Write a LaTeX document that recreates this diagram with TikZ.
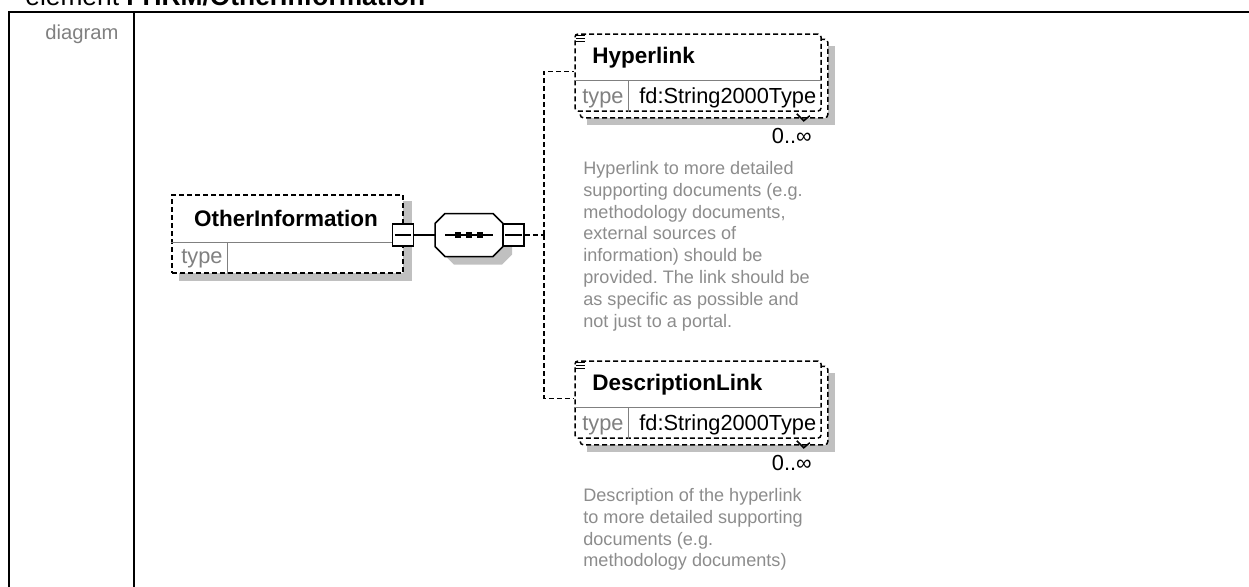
\documentclass[tikz,border=0pt]{standalone}
\usepackage{fontspec}
\setmainfont{Liberation Sans}
\usepackage{tikz}
\usetikzlibrary{calc, positioning, backgrounds}
\definecolor{mygray}{RGB}{128,128,128}
\definecolor{mynote}{RGB}{140,140,140}
\definecolor{myshadow}{RGB}{192,192,192}
\tikzset{
  line/.style={draw=black, line width=0.3mm},
  optline/.style={draw=black, line width=0.3mm, dash pattern=on 1mm off 0.6mm},
  rowline/.style={draw=mygray, line width=0.3mm},
  elem/.style={optline, fill=white, rectangle, inner sep=0pt},
  minusbox/.style={line, fill=white, rectangle, inner sep=0pt, minimum width=4.2mm, minimum height=4.4mm},
  seqbox/.style={rectangle, inner sep=0pt, minimum width=13.6mm, minimum height=8.6mm},
  ename/.style={font=\fontsize{12.8}{15}\selectfont\bfseries, inner sep=0pt, anchor=base west},
  etype/.style={font=\fontsize{12.4}{15}\selectfont, inner sep=0pt, anchor=base west},
  typelbl/.style={etype, text=mygray},
  occurs/.style={font=\fontsize{12.4}{15}\selectfont, inner sep=0pt, anchor=base east},
  note/.style={font=\fontsize{10.3}{12.4}\selectfont\frenchspacing, text=mynote, align=left, inner sep=0pt, anchor=north west}
}
\begin{document}
\begin{tikzpicture}[x=0.2mm, y=-0.2mm]
  \useasboundingbox (0,0) rectangle (1249,586);

  % frame
  \node[font=\fontsize{15}{18}\selectfont, inner sep=0pt, anchor=base west] (title) at (25,5.5) {element \textbf{FHRM/OtherInformation}};
  \draw[line width=0.4mm] (1260,12) -- (8.5,12) -- (8.5,600);
  \draw[line width=0.4mm] (134,12) -- (134,600);
  \node[font=\fontsize{11.5}{14}\selectfont, text=mygray, inner sep=0pt, anchor=base west] (diag) at (45,39) {diagram};

  % OtherInformation
  \node[elem, minimum width=46.2mm, minimum height=15.6mm] (oi) at (287.5,234) {};
  \draw[rowline] ($(oi.north west)+(0,48)$) -- ($(oi.north east)+(0,48)$);
  \draw[rowline] ($(oi.north west)+(56,48)$) -- ($(oi.south west)+(56,0)$);
  \node[ename, anchor=base] (oiname) at (286,226) {OtherInformation};
  \node[typelbl] (oitype) at (181,263) {type};
  \node[minusbox] (oim) at (403,235) {};
  \draw[line] ($(oim.west)+(3,0)$) -- ($(oim.east)+(-3,0)$);

  % sequence
  \node[seqbox] (seq) at (469,235) {};
  \draw[line, fill=white] (seq.center) ++(-24,-21.5) -- ++(48,0) -- ++(10,10) -- ++(0,23) -- ++(-10,10) -- ++(-48,0) -- ++(-10,-10) -- ++(0,-23) -- cycle;
  \draw[line] ($(seq.center)+(-24,0)$) -- ($(seq.center)+(24,0)$);
  \foreach \dx in {-11,0,11}
    \fill ($(seq.center)+(\dx,0)+(-3,-3)$) rectangle +(6,6);
  \node[minusbox] (seqm) at (513.5,235) {};
  \draw[line] ($(seqm.west)+(3,0)$) -- ($(seqm.east)+(-3,0)$);
  \draw[line] (oim) -- (seq);
  \coordinate (split) at (544,235);
  \draw[optline] (seqm) -- (split);

  % Hyperlink
  \node[elem, rounded corners=0.6mm, minimum width=49.2mm, minimum height=15.4mm] (hl) at (698,72.5) {};
  \draw[rowline] ($(hl.north west)+(0,47)$) -- ($(hl.north east)+(0,47)$);
  \draw[rowline] ($(hl.north west)+(54,47)$) -- ($(hl.south west)+(54,0)$);
  \foreach \dy in {2,5,8}
    \draw[line] ($(hl.north west)+(2,\dy)$) -- +(9,0);
  \node[ename] (hlname) at (592,63) {Hyperlink};
  \node[typelbl] (hltype) at (582,103) {type};
  \node[etype] (hlval) at (639,103) {fd:String2000Type};
  \draw[line] ($(hl.south east)+(-25,2)$) -- +(7,7) -- +(13,2);
  \node[occurs] (hlocc) at (812,143) {0..∞};
  \node[note] (hlnote) at (583,161) {Hyperlink to more detailed\\supporting documents (e.g.\\methodology documents,\\external sources of\\information) should be\\provided. The link should be\\as specific as possible and\\not just to a portal.};
  \coordinate (hlin) at ($(hl.north west)+(0,38)$);
  \draw[optline] (split) |- (hlin);

  % DescriptionLink
  \node[elem, rounded corners=0.6mm, minimum width=49.2mm, minimum height=15.4mm] (dl) at (698,399.5) {};
  \draw[rowline] ($(dl.north west)+(0,47)$) -- ($(dl.north east)+(0,47)$);
  \draw[rowline] ($(dl.north west)+(54,47)$) -- ($(dl.south west)+(54,0)$);
  \foreach \dy in {2,5,8}
    \draw[line] ($(dl.north west)+(2,\dy)$) -- +(9,0);
  \node[ename] (dlname) at (592,390) {DescriptionLink};
  \node[typelbl] (dltype) at (582,430) {type};
  \node[etype] (dlval) at (639,430) {fd:String2000Type};
  \draw[line] ($(dl.south east)+(-25,2)$) -- +(7,7) -- +(13,2);
  \node[occurs] (dlocc) at (812,470) {0..∞};
  \node[note] (dlnote) at (583,488) {Description of the hyperlink\\to more detailed supporting\\documents (e.g.\\methodology documents)};
  \coordinate (dlin) at ($(dl.north west)+(0,38)$);
  \draw[optline] (split) |- (dlin);

  % shadows and stacked boxes
  \begin{scope}[on background layer]
    \fill[myshadow] ($(oi.north west)+(8,7)$) rectangle ($(oi.south east)+(8,7)$);
    \fill[myshadow] (seq.center) ++(-15,-13.5) -- ++(48,0) -- ++(10,10) -- ++(0,23) -- ++(-10,10) -- ++(-48,0) -- ++(-10,-10) -- ++(0,-23) -- cycle;
    \fill[myshadow] ($(hl.north west)+(13,13)$) rectangle ($(hl.south east)+(13,13)$);
    \draw[optline, fill=white, rounded corners=0.6mm] ($(hl.north west)+(6,6)$) rectangle ($(hl.south east)+(6,6)$);
    \fill[myshadow] ($(dl.north west)+(13,13)$) rectangle ($(dl.south east)+(13,13)$);
    \draw[optline, fill=white, rounded corners=0.6mm] ($(dl.north west)+(6,6)$) rectangle ($(dl.south east)+(6,6)$);
  \end{scope}
\end{tikzpicture}
\end{document}
